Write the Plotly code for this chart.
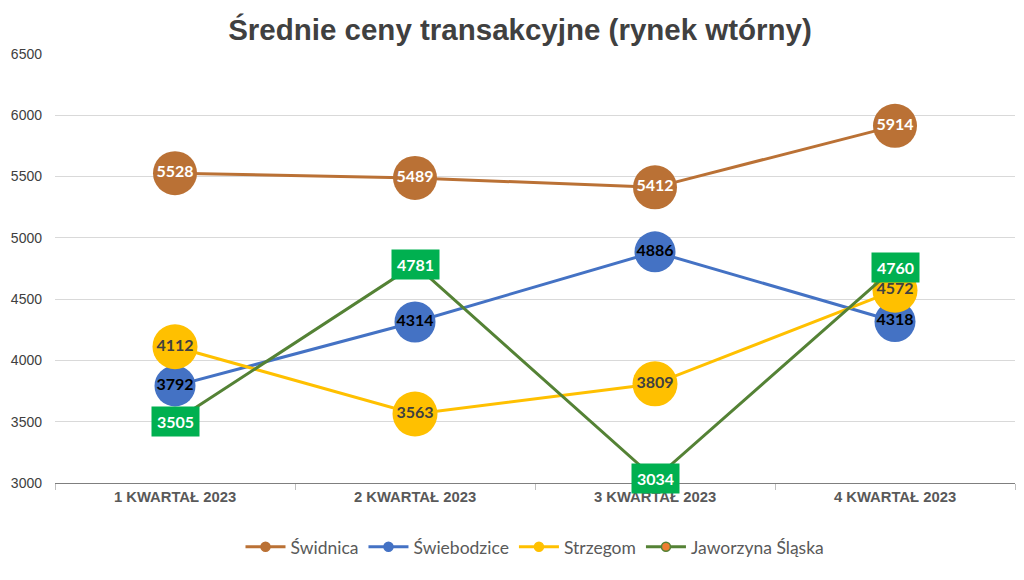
import plotly.graph_objects as go

categories = ["1 KWARTAŁ 2023", "2 KWARTAŁ 2023", "3 KWARTAŁ 2023", "4 KWARTAŁ 2023"]
swidnica = [5528, 5489, 5412, 5914]
swiebodzice = [3792, 4314, 4886, 4318]
strzegom = [4112, 3563, 3809, 4572]
jaworzyna = [3505, 4781, 3034, 4760]
y_ticks = [3000, 3500, 4000, 4500, 5000, 5500, 6000, 6500]

SANS = "Liberation Sans, Arial, sans-serif"
LABEL = "Lato, Carlito, sans-serif"

fig = go.Figure()

series = [
    ("Świdnica", swidnica, "#BA7135", 44, "#FFFFFF"),
    ("Świebodzice", swiebodzice, "#4472C4", 41, "#000000"),
    ("Strzegom", strzegom, "#FFC000", 45, "#404040"),
]
for name, vals, col, sz, tcol in series:
    fig.add_trace(go.Scatter(
        x=categories, y=vals, mode="lines+markers+text", name=name,
        line=dict(color=col, width=3), marker=dict(color=col, size=sz),
        text=[str(v) for v in vals], textposition="middle center",
        textfont=dict(family=LABEL, size=16, color=tcol, weight="bold"),
        showlegend=False, cliponaxis=False,
    ))

fig.add_trace(go.Scatter(
    x=categories, y=jaworzyna, mode="lines", name="Jaworzyna Śląska",
    line=dict(color="#548235", width=3), showlegend=False, cliponaxis=False,
))
for c, v in zip(categories, jaworzyna):
    fig.add_annotation(x=c, y=v, text=str(v), showarrow=False,
                       bgcolor="#00B050", borderpad=5,
                       font=dict(family=LABEL, size=16, color="#FFFFFF", weight="bold"))

# legend entries
leg = [
    ("Świdnica", "#BA7135", "#BA7135"),
    ("Świebodzice", "#4472C4", "#4472C4"),
    ("Strzegom", "#FFC000", "#FFC000"),
    ("Jaworzyna Śląska", "#548235", "#ED7D31"),
]
for name, lc, mc in leg:
    fig.add_trace(go.Scatter(
        x=[None], y=[None], mode="lines+markers", name=name,
        line=dict(color=lc, width=3),
        marker=dict(color=mc, size=9, line=dict(color=lc, width=1.5)),
    ))

fig.update_layout(
    width=1024, height=580,
    margin=dict(l=47, r=17, t=46, b=105, autoexpand=False),
    paper_bgcolor="white", plot_bgcolor="white",
    title=dict(text="<b>Średnie ceny transakcyjne (rynek wtórny)</b>",
               x=0.5, xanchor="center", y=0.962, yanchor="middle",
               font=dict(family=SANS, size=29.5, color="#404040")),
    legend=dict(orientation="h", x=0.5, xanchor="center", y=-0.149, yanchor="middle",
                font=dict(family=LABEL, size=17.5, color="#595959"),
                itemwidth=40),
    showlegend=True,
)
fig.update_xaxes(
    type="category", range=[-0.5, 3.5], showgrid=False, automargin=False,
    showline=True, linecolor="#7F7F7F", linewidth=1,
    ticks="outside", tickson="boundaries", ticklen=6, tickcolor="#BFBFBF",
    tickfont=dict(family=SANS, size=14.8, color="#595959", weight="bold"),
)
fig.update_yaxes(
    range=[3000, 6500], tickvals=y_ticks, ticktext=[str(t) for t in y_ticks],
    showgrid=True, gridcolor="#D9D9D9", gridwidth=1, zeroline=False,
    automargin=False, ticklabelstandoff=12,
    tickfont=dict(family=SANS, size=14, color="#404040"),
)

fig.write_html("out.html")
